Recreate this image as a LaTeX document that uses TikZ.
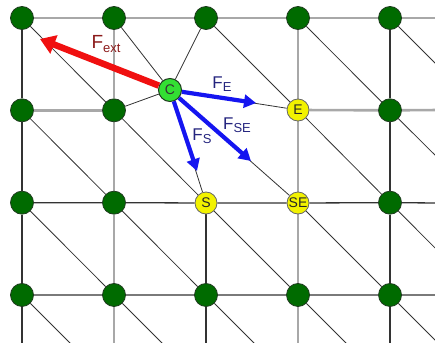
\documentclass[tikz,border=0pt]{standalone}
\usepackage{fontspec}
\setmainfont{Liberation Sans}
\usetikzlibrary{arrows.meta,backgrounds}
\definecolor{gridgray}{HTML}{A8A8A8}
\definecolor{griddark}{HTML}{333333}
\definecolor{nodegreen}{HTML}{006B00}
\definecolor{nodeline}{HTML}{1E3A1E}
\definecolor{cgreen}{HTML}{33E033}
\definecolor{ynode}{HTML}{F2F200}
\definecolor{fred}{HTML}{F01010}
\definecolor{fredtext}{HTML}{8B1A1A}
\definecolor{fblue}{HTML}{1515F0}
\definecolor{fbluetext}{HTML}{24247E}
\newcommand{\fsub}[1]{\raisebox{-0.32ex}{\fontsize{13}{13}\selectfont #1}}
\tikzset{
  gnode/.style={circle,fill=nodegreen,draw=nodeline,line width=0.8pt,minimum size=23pt,inner sep=0pt},
  ynodestyle/.style={circle,fill=ynode,draw=black!60,line width=0.8pt,minimum size=22pt,inner sep=0pt,font=\fontsize{14}{14}\selectfont,text=black!85},
  cnodestyle/.style={circle,fill=cgreen,draw=nodeline,line width=1pt,minimum size=23pt,inner sep=0pt,font=\fontsize{14}{14}\selectfont,text=black!80},
  grayline/.style={gridgray,line width=2.6pt},
  darkline/.style={griddark,line width=1.3pt},
  diagline/.style={griddark,line width=0.8pt},
  redforce/.style={fred,line width=6.5pt,-{Triangle[length=15pt,width=19pt]}},
  blueforce/.style={fblue,line width=4.2pt,-{Triangle[length=12pt,width=13pt]}},
  flabel/.style={font=\fontsize{17}{17}\selectfont,inner sep=0pt}
}
\begin{document}
\begin{tikzpicture}[x=1pt,y=-1pt]
\useasboundingbox (0,0) rectangle (435,342);
\clip (0,0) rectangle (435,342);
% green nodes
\foreach \i/\j in {0/0,1/0,2/0,3/0,4/0,0/1,1/1,4/1,0/2,1/2,4/2,0/3,1/3,2/3,3/3,4/3}
  \node[gnode] (n\i\j) at ({22+92*\i},{18+92.33*\j}) {};
% special nodes
\node[ynodestyle] (nE) at (298,110) {E};
\node[ynodestyle] (nS) at (206,203) {S};
\node[ynodestyle] (nSE) at (298,203) {SE};
\node[cnodestyle] (nC) at (170,90) {C};
% off-picture ends
\coordinate (r0) at (440,18);
\coordinate (r1) at (440,110);
\coordinate (r2) at (440,203);
\coordinate (r3) at (440,295);
\coordinate (b0) at (22,350);
\coordinate (b1) at (114,350);
\coordinate (b2) at (206,350);
\coordinate (b3) at (298,350);
\coordinate (b4) at (390,350);
\coordinate (d0) at (77,350);
\coordinate (d1) at (169,350);
\coordinate (d2) at (261,350);
\coordinate (d3) at (353,350);
\coordinate (e0) at (445,73);
\coordinate (e1) at (445,165);
\coordinate (e2) at (445,258);
\coordinate (e3) at (445,350);
\coordinate (tExt) at (40,39);
\coordinate (tE) at (256,103);
\coordinate (tSE) at (251,161);
\coordinate (tS) at (197,171);
\begin{scope}[on background layer]
  % gray lines
  \draw[grayline] (n00) -- (n10) -- (n20) -- (n30) -- (n40) -- (r0);
  \draw[grayline] (n01) -- (n11);
  \draw[grayline] (nE) -- (n41) -- (r1);
  \draw[grayline] (n10) -- (n11) -- (n12) -- (n13) -- (b1);
  \draw[grayline] (n30) -- (nE) -- (nSE) -- (n33) -- (b3);
  % dark lines
  \draw[darkline] (n02) -- (n12) -- (nS) -- (nSE) -- (n42) -- (r2);
  \draw[darkline] (n03) -- (n13) -- (n23) -- (n33) -- (n43) -- (r3);
  \draw[darkline] (n00) -- (n01) -- (n02) -- (n03) -- (b0);
  \draw[darkline] (nS) -- (n23) -- (b2);
  \draw[darkline] (n40) -- (n41) -- (n42) -- (n43) -- (b4);
  % links of C
  \draw[diagline] (nC) -- (n10);
  \draw[diagline] (nC) -- (n20);
  \draw[diagline] (nC) -- (n11);
  \draw[diagline] (nC) -- (nE);
  \draw[diagline] (nC) -- (nS);
  \draw[diagline] (nC) -- (nSE);
  % diagonals
  \draw[diagline] (n00) -- (n11);
  \draw[diagline] (n01) -- (n12);
  \draw[diagline] (n02) -- (n13);
  \draw[diagline] (n03) -- (d0);
  \draw[diagline] (n11) -- (nS);
  \draw[diagline] (n12) -- (n23);
  \draw[diagline] (n13) -- (d1);
  \draw[diagline] (n20) -- (nE);
  \draw[diagline] (nS) -- (n33);
  \draw[diagline] (n23) -- (d2);
  \draw[diagline] (n30) -- (n41);
  \draw[diagline] (nE) -- (n42);
  \draw[diagline] (nSE) -- (n43);
  \draw[diagline] (n33) -- (d3);
  \draw[diagline] (n40) -- (e0);
  \draw[diagline] (n41) -- (e1);
  \draw[diagline] (n42) -- (e2);
  \draw[diagline] (n43) -- (e3);
\end{scope}
% forces
\draw[redforce] (nC) -- (tExt);
\draw[blueforce] (nC) -- (tE);
\draw[blueforce] (nC) -- (tSE);
\draw[blueforce] (nC) -- (tS);
% labels
\node[flabel,text=fredtext,font=\fontsize{19}{19}\selectfont] (lExt) at (106,44) {F\fsub{ext}};
\node[flabel,text=fbluetext] (lE) at (222,84) {F\fsub{E}};
\node[flabel,text=fbluetext] (lSE) at (237,125) {F\fsub{SE}};
\node[flabel,text=fbluetext] (lS) at (202,136) {F\fsub{S}};
\end{tikzpicture}
\end{document}
